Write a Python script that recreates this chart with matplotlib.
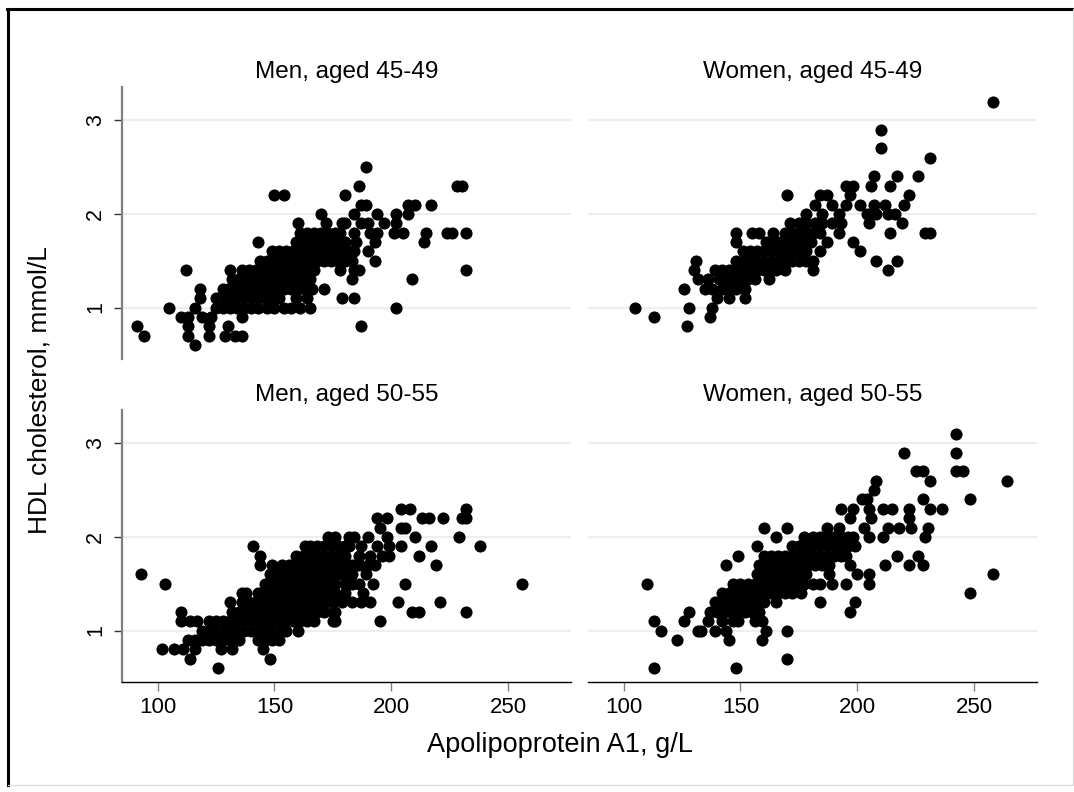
import matplotlib
matplotlib.use("Agg")
import matplotlib.pyplot as plt
from matplotlib.lines import Line2D

plt.rcParams['font.family'] = ['Liberation Sans', 'DejaVu Sans']

# (apolipoprotein A1 g/L, HDL cholesterol mmol/L), listed by HDL level
men_45_49 = [
    (116, 0.6),
    (94, 0.7), (113, 0.7), (122, 0.7), (129, 0.7), (133, 0.7), (136, 0.7),
    (91, 0.8), (113, 0.8), (122, 0.8), (130, 0.8), (187, 0.8),
    (110, 0.9), (113, 0.9), (119, 0.9), (123, 0.9), (136, 0.9),
    (105, 1.0), (116, 1.0), (125, 1.0), (128, 1.0), (131, 1.0), (134, 1.0), (137, 1.0),
    (140, 1.0), (143, 1.0), (147, 1.0), (150, 1.0), (154, 1.0), (157, 1.0), (161, 1.0),
    (165, 1.0), (202, 1.0),
    (118, 1.1), (125, 1.1), (128, 1.1), (131, 1.1), (134, 1.1), (137, 1.1), (140, 1.1),
    (143, 1.1), (146, 1.1), (149, 1.1), (152, 1.1), (159, 1.1), (164, 1.1), (179, 1.1),
    (184, 1.1),
    (118, 1.2), (128, 1.2), (130, 1.2), (133, 1.2), (136, 1.2), (139, 1.2), (142, 1.2),
    (145, 1.2), (148, 1.2), (151, 1.2), (154, 1.2), (157, 1.2), (160, 1.2), (163, 1.2),
    (166, 1.2), (171, 1.2),
    (132, 1.3), (135, 1.3), (138, 1.3), (141, 1.3), (144, 1.3), (147, 1.3), (150, 1.3),
    (153, 1.3), (156, 1.3), (159, 1.3), (162, 1.3), (165, 1.3), (183, 1.3), (209, 1.3),
    (112, 1.4), (131, 1.4), (136, 1.4), (139, 1.4), (142, 1.4), (145, 1.4), (148, 1.4),
    (151, 1.4), (154, 1.4), (157, 1.4), (160, 1.4), (163, 1.4), (167, 1.4), (178, 1.4),
    (184, 1.4), (186, 1.4), (232, 1.4),
    (144, 1.5), (147, 1.5), (150, 1.5), (153, 1.5), (156, 1.5), (159, 1.5), (162, 1.5),
    (165, 1.5), (168, 1.5), (171, 1.5), (174, 1.5), (177, 1.5), (180, 1.5), (183, 1.5),
    (193, 1.5),
    (149, 1.6), (152, 1.6), (155, 1.6), (158, 1.6), (161, 1.6), (164, 1.6), (167, 1.6),
    (170, 1.6), (173, 1.6), (176, 1.6), (179, 1.6), (182, 1.6), (184, 1.6), (190, 1.6),
    (143, 1.7), (159, 1.7), (162, 1.7), (165, 1.7), (168, 1.7), (171, 1.7), (174, 1.7),
    (177, 1.7), (180, 1.7), (185, 1.7), (193, 1.7), (214, 1.7),
    (161, 1.8), (164, 1.8), (167, 1.8), (170, 1.8), (173, 1.8), (176, 1.8), (178, 1.8),
    (184, 1.8), (191, 1.8), (194, 1.8), (201, 1.8), (205, 1.8), (215, 1.8), (224, 1.8),
    (226, 1.8), (232, 1.8),
    (160, 1.9), (172, 1.9), (179, 1.9), (180, 1.9), (187, 1.9), (190, 1.9), (197, 1.9),
    (202, 1.9),
    (170, 2.0), (184, 2.0), (194, 2.0), (202, 2.0), (207, 2.0),
    (187, 2.1), (189, 2.1), (207, 2.1), (210, 2.1), (217, 2.1),
    (150, 2.2), (154, 2.2), (180, 2.2),
    (186, 2.3), (228, 2.3), (230, 2.3),
    (189, 2.5),
]

women_45_49 = [
    (127, 0.8),
    (113, 0.9), (137, 0.9),
    (105, 1.0), (128, 1.0), (138, 1.0),
    (140, 1.1), (145, 1.1), (152, 1.1),
    (126, 1.2), (135, 1.2), (138, 1.2), (142, 1.2), (145, 1.2), (148, 1.2), (152, 1.2),
    (132, 1.3), (136, 1.3), (141, 1.3), (144, 1.3), (147, 1.3), (150, 1.3), (153, 1.3),
    (156, 1.3), (162, 1.3),
    (130, 1.4), (139, 1.4), (142, 1.4), (145, 1.4), (148, 1.4), (151, 1.4), (154, 1.4),
    (157, 1.4), (160, 1.4), (163, 1.4), (165, 1.4), (169, 1.4), (181, 1.4), (213, 1.4),
    (131, 1.5), (148, 1.5), (151, 1.5), (154, 1.5), (157, 1.5), (160, 1.5), (163, 1.5),
    (166, 1.5), (169, 1.5), (172, 1.5), (175, 1.5), (178, 1.5), (181, 1.5), (208, 1.5),
    (217, 1.5),
    (151, 1.6), (154, 1.6), (157, 1.6), (160, 1.6), (163, 1.6), (166, 1.6), (169, 1.6),
    (172, 1.6), (175, 1.6), (178, 1.6), (184, 1.6), (201, 1.6),
    (148, 1.7), (161, 1.7), (164, 1.7), (167, 1.7), (170, 1.7), (173, 1.7), (176, 1.7),
    (180, 1.7), (187, 1.7), (198, 1.7),
    (148, 1.8), (155, 1.8), (158, 1.8), (164, 1.8), (169, 1.8), (172, 1.8), (175, 1.8),
    (178, 1.8), (181, 1.8), (184, 1.8), (192, 1.8), (214, 1.8), (229, 1.8), (231, 1.8),
    (171, 1.9), (175, 1.9), (178, 1.9), (182, 1.9), (185, 1.9), (189, 1.9), (193, 1.9),
    (205, 1.9), (219, 1.9),
    (178, 2.0), (185, 2.0), (192, 2.0), (204, 2.0), (208, 2.0), (213, 2.0), (216, 2.0),
    (182, 2.1), (189, 2.1), (195, 2.1), (201, 2.1), (207, 2.1), (212, 2.1), (220, 2.1),
    (170, 2.2), (184, 2.2), (187, 2.2), (197, 2.2), (222, 2.2),
    (195, 2.3), (198, 2.3), (206, 2.3), (214, 2.3),
    (207, 2.4), (217, 2.4), (226, 2.4),
    (231, 2.6),
    (210, 2.7),
    (210, 2.9),
    (258, 3.2),
]

men_50_55 = [
    (126, 0.6),
    (114, 0.7), (148, 0.7),
    (102, 0.8), (107, 0.8), (111, 0.8), (116, 0.8), (127, 0.8), (132, 0.8), (145, 0.8),
    (113, 0.9), (116, 0.9), (119, 0.9), (122, 0.9), (125, 0.9), (128, 0.9), (131, 0.9),
    (135, 0.9), (143, 0.9), (146, 0.9), (149, 0.9), (152, 0.9),
    (119, 1.0), (122, 1.0), (125, 1.0), (128, 1.0), (131, 1.0), (134, 1.0), (137, 1.0),
    (140, 1.0), (143, 1.0), (146, 1.0), (149, 1.0), (152, 1.0), (155, 1.0), (160, 1.0),
    (110, 1.1), (114, 1.1), (117, 1.1), (122, 1.1), (125, 1.1), (128, 1.1), (131, 1.1),
    (134, 1.1), (137, 1.1), (140, 1.1), (143, 1.1), (146, 1.1), (149, 1.1), (152, 1.1),
    (155, 1.1), (158, 1.1), (161, 1.1), (164, 1.1), (167, 1.1), (175, 1.1), (176, 1.1),
    (195, 1.1),
    (110, 1.2), (132, 1.2), (135, 1.2), (138, 1.2), (141, 1.2), (144, 1.2), (147, 1.2),
    (150, 1.2), (153, 1.2), (156, 1.2), (159, 1.2), (162, 1.2), (165, 1.2), (168, 1.2),
    (171, 1.2), (175, 1.2), (176, 1.2), (209, 1.2), (212, 1.2), (232, 1.2),
    (131, 1.3), (136, 1.3), (139, 1.3), (142, 1.3), (145, 1.3), (148, 1.3), (151, 1.3),
    (154, 1.3), (157, 1.3), (160, 1.3), (163, 1.3), (166, 1.3), (169, 1.3), (172, 1.3),
    (175, 1.3), (179, 1.3), (183, 1.3), (187, 1.3), (191, 1.3), (203, 1.3), (221, 1.3),
    (136, 1.4), (138, 1.4), (143, 1.4), (146, 1.4), (149, 1.4), (152, 1.4), (155, 1.4),
    (158, 1.4), (161, 1.4), (164, 1.4), (167, 1.4), (170, 1.4), (173, 1.4), (176, 1.4),
    (180, 1.4), (188, 1.4),
    (103, 1.5), (146, 1.5), (149, 1.5), (152, 1.5), (155, 1.5), (158, 1.5), (161, 1.5),
    (164, 1.5), (167, 1.5), (170, 1.5), (173, 1.5), (176, 1.5), (180, 1.5), (183, 1.5),
    (186, 1.5), (192, 1.5), (206, 1.5), (256, 1.5),
    (93, 1.6), (148, 1.6), (151, 1.6), (154, 1.6), (157, 1.6), (160, 1.6), (163, 1.6),
    (166, 1.6), (169, 1.6), (172, 1.6), (175, 1.6), (178, 1.6), (180, 1.6), (183, 1.6),
    (189, 1.6),
    (144, 1.7), (149, 1.7), (153, 1.7), (156, 1.7), (159, 1.7), (162, 1.7), (165, 1.7),
    (168, 1.7), (171, 1.7), (174, 1.7), (177, 1.7), (180, 1.7), (183, 1.7), (186, 1.7),
    (190, 1.7), (193, 1.7), (219, 1.7),
    (144, 1.8), (159, 1.8), (162, 1.8), (165, 1.8), (168, 1.8), (171, 1.8), (174, 1.8),
    (177, 1.8), (180, 1.8), (186, 1.8), (191, 1.8), (196, 1.8), (199, 1.8), (212, 1.8),
    (141, 1.9), (163, 1.9), (165, 1.9), (168, 1.9), (171, 1.9), (174, 1.9), (177, 1.9),
    (180, 1.9), (182, 1.9), (187, 1.9), (194, 1.9), (199, 1.9), (204, 1.9), (217, 1.9),
    (238, 1.9),
    (173, 2.0), (176, 2.0), (182, 2.0), (184, 2.0), (190, 2.0), (198, 2.0), (210, 2.0),
    (229, 2.0),
    (195, 2.1), (204, 2.1), (206, 2.1),
    (194, 2.2), (198, 2.2), (213, 2.2), (216, 2.2), (222, 2.2), (230, 2.2), (232, 2.2),
    (204, 2.3), (208, 2.3), (232, 2.3),
]

women_50_55 = [
    (113, 0.6), (148, 0.6),
    (170, 0.7),
    (123, 0.9), (145, 0.9), (159, 0.9),
    (116, 1.0), (132, 1.0), (133, 1.0), (139, 1.0), (144, 1.0), (161, 1.0), (170, 1.0),
    (113, 1.1), (126, 1.1), (136, 1.1), (142, 1.1), (147, 1.1), (149, 1.1), (156, 1.1),
    (159, 1.1),
    (128, 1.2), (137, 1.2), (140, 1.2), (143, 1.2), (146, 1.2), (149, 1.2), (152, 1.2),
    (155, 1.2), (158, 1.2), (197, 1.2),
    (139, 1.3), (142, 1.3), (145, 1.3), (148, 1.3), (151, 1.3), (154, 1.3), (157, 1.3),
    (160, 1.3), (165, 1.3), (184, 1.3), (199, 1.3),
    (142, 1.4), (145, 1.4), (148, 1.4), (151, 1.4), (154, 1.4), (157, 1.4), (160, 1.4),
    (163, 1.4), (166, 1.4), (169, 1.4), (172, 1.4), (176, 1.4), (248, 1.4),
    (110, 1.5), (147, 1.5), (150, 1.5), (153, 1.5), (156, 1.5), (159, 1.5), (162, 1.5),
    (165, 1.5), (168, 1.5), (171, 1.5), (174, 1.5), (177, 1.5), (181, 1.5), (184, 1.5),
    (189, 1.5), (195, 1.5), (205, 1.5),
    (157, 1.6), (160, 1.6), (163, 1.6), (166, 1.6), (169, 1.6), (172, 1.6), (175, 1.6),
    (178, 1.6), (188, 1.6), (200, 1.6), (205, 1.6), (258, 1.6),
    (144, 1.7), (158, 1.7), (161, 1.7), (164, 1.7), (167, 1.7), (170, 1.7), (173, 1.7),
    (176, 1.7), (179, 1.7), (182, 1.7), (185, 1.7), (188, 1.7), (197, 1.7), (212, 1.7),
    (222, 1.7), (228, 1.7),
    (149, 1.8), (160, 1.8), (163, 1.8), (166, 1.8), (169, 1.8), (172, 1.8), (175, 1.8),
    (178, 1.8), (181, 1.8), (184, 1.8), (187, 1.8), (190, 1.8), (193, 1.8), (195, 1.8),
    (217, 1.8), (226, 1.8),
    (157, 1.9), (172, 1.9), (175, 1.9), (178, 1.9), (181, 1.9), (184, 1.9), (187, 1.9),
    (190, 1.9), (193, 1.9), (196, 1.9), (199, 1.9),
    (165, 2.0), (177, 2.0), (181, 2.0), (184, 2.0), (187, 2.0), (190, 2.0), (193, 2.0),
    (196, 2.0), (198, 2.0), (205, 2.0), (211, 2.0), (229, 2.0),
    (160, 2.1), (170, 2.1), (187, 2.1), (192, 2.1), (203, 2.1), (213, 2.1), (218, 2.1),
    (223, 2.1), (230, 2.1),
    (197, 2.2), (206, 2.2), (222, 2.2),
    (193, 2.3), (198, 2.3), (205, 2.3), (211, 2.3), (215, 2.3), (222, 2.3), (231, 2.3),
    (236, 2.3),
    (202, 2.4), (204, 2.4), (228, 2.4), (248, 2.4),
    (207, 2.5),
    (208, 2.6), (231, 2.6), (264, 2.6),
    (225, 2.7), (228, 2.7), (242, 2.7), (245, 2.7),
    (220, 2.9), (242, 2.9),
    (242, 3.1),
]

panel_titles = ["Men, aged 45-49", "Women, aged 45-49",
                "Men, aged 50-55", "Women, aged 50-55"]
panel_data = [men_45_49, women_45_49, men_50_55, women_50_55]
x_ticks = [100, 150, 200, 250]
y_ticks = [1, 2, 3]

W, H = 1074, 792
fig = plt.figure(figsize=(W / 100, H / 100), dpi=100)

# panel boxes in pixels: left, top, width, height
col_left = [122.3, 588.3]
row_top = [87, 410]
pw, ph = 448.4, 272

grid_col = "#eaf0f2"
for i, (title, pts) in enumerate(zip(panel_titles, panel_data)):
    r, c = divmod(i, 2)
    ax = fig.add_axes([col_left[c] / W, 1 - (row_top[r] + ph) / H, pw / W, ph / H])
    ax.set_xlim(84.9, 276.7)
    ax.set_ylim(0.45, 3.355)
    for s in ax.spines.values():
        s.set_visible(False)
    for yv in y_ticks:
        ax.axhline(yv, color=grid_col, lw=1.6, zorder=0)

    apo = [p[0] for p in pts]
    hdl = [p[1] for p in pts]
    ax.scatter(apo, hdl, s=76, color="black", linewidths=0, zorder=3)

    # subgraph title, centred over the panel
    fig.text((col_left[c] + pw / 2) / W, 1 - (row_top[r] - 15) / H, title,
             ha="center", va="center", fontsize=17.5)

    if c == 0:
        ax.spines["left"].set_visible(True)
        ax.spines["left"].set_color("#7f7f7f")
        ax.spines["left"].set_linewidth(1.6)
        ax.set_yticks(y_ticks)
        ax.set_yticklabels([str(v) for v in y_ticks], rotation=90, va="center")
        ax.tick_params(axis="y", length=5.5, width=1, color="#333333",
                       labelsize=15.5, pad=6)
    else:
        ax.set_yticks([])

    if r == 1:
        ax.spines["bottom"].set_visible(True)
        ax.spines["bottom"].set_color("black")
        ax.spines["bottom"].set_linewidth(1.0)
        ax.set_xticks(x_ticks)
        ax.tick_params(axis="x", length=6.5, width=1, color="#7f7f7f",
                       labelsize=16, pad=4)
    else:
        ax.set_xticks([])

fig.text(560 / W, 1 - 745 / H, "Apolipoprotein A1, g/L", ha="center", va="center",
         fontsize=19.5)
fig.text(40 / W, 1 - 390 / H, "HDL cholesterol, mmol/L", ha="center", va="center",
         rotation=90, fontsize=19)

# outer frame: dark on the top and left edges, faint on the others
fig.add_artist(Line2D([8 / W, 8 / W], [1 - 9 / H, 1 - 785 / H], color="black", lw=2.2))
fig.add_artist(Line2D([7 / W, 1073 / W], [1 - 9.3 / H, 1 - 9.3 / H], color="black", lw=2.2))
fig.add_artist(Line2D([1072.5 / W, 1072.5 / W], [1 - 9 / H, 1 - 785 / H],
                      color="#d8d8d8", lw=0.8))
fig.add_artist(Line2D([8 / W, 1073 / W], [1 - 785 / H, 1 - 785 / H],
                      color="#d8d8d8", lw=0.8))

fig.savefig("out.png", dpi=100)
